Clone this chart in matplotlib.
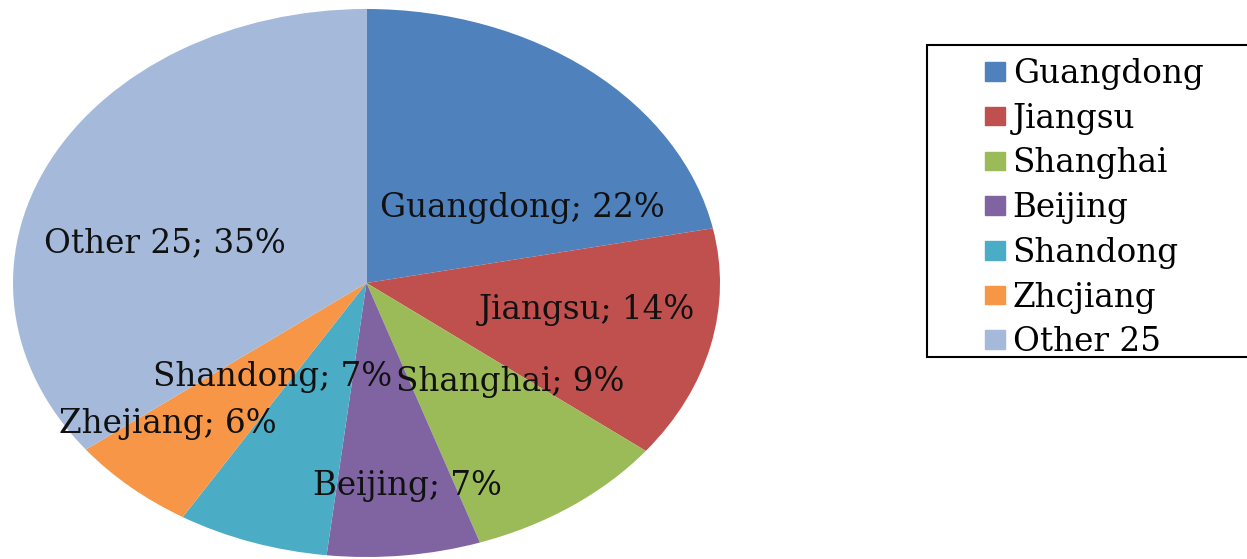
import matplotlib.pyplot as plt
import matplotlib.patches as mpatches

# data (percent of total)
provinces = ['Guangdong', 'Jiangsu', 'Shanghai', 'Beijing', 'Shandong', 'Zhejiang', 'Other 25']
legend_names = ['Guangdong', 'Jiangsu', 'Shanghai', 'Beijing', 'Shandong', 'Zhcjiang', 'Other 25']
shares = [21.8, 13.7, 9.3, 7.0, 6.9, 5.9, 35.4]

colors = ['#4F81BD', '#C0504D', '#9BBB59', '#8064A2', '#4BACC6', '#F79646', '#A5BADB']

# label placement (axes data units, pie radius = 1)
label_xy = [(0.44, 0.275), (0.623, -0.099), (0.406, -0.361), (0.117, -0.74),
            (-0.267, -0.343), (-0.561, -0.515), (-0.57, 0.146)]

font = 'DejaVu Serif'
fsize = 23.5

W, H = 1247, 559
fig = plt.figure(figsize=(W/100, H/100), dpi=100)
ax = fig.add_axes([13/W, 2/H, 707/W, 548/H])

wedges, _ = ax.pie(shares, colors=colors, startangle=90, counterclock=False,
                   wedgeprops=dict(linewidth=0))
ax.set_aspect('auto')
ax.set_xlim(-1, 1)
ax.set_ylim(-1, 1)
ax.axis('off')

for name, val, (x, y) in zip(provinces, shares, label_xy):
    ax.text(x, y, f'{name}; {round(val)}%', ha='center', va='center',
            fontsize=fsize, family=font, color='#111111')

# legend box (runs off the right edge like the original)
box = mpatches.Rectangle((927/W, 1 - 357/H), 340/W, 312/H, transform=fig.transFigure,
                         facecolor='white', edgecolor='black', linewidth=1.5, zorder=1)
fig.add_artist(box)

handles = [mpatches.Patch(color=c) for c in colors]
leg = fig.legend(handles, legend_names, loc='upper left',
                 bbox_to_anchor=(985/W, 1 - 58/H),
                 prop={'family': font, 'size': fsize},
                 frameon=False,
                 handlelength=0.6, handleheight=0.5, handletextpad=0.25,
                 labelspacing=0.39, borderpad=0, borderaxespad=0)
leg.set_zorder(2)

fig.savefig('out.png', dpi=100)
